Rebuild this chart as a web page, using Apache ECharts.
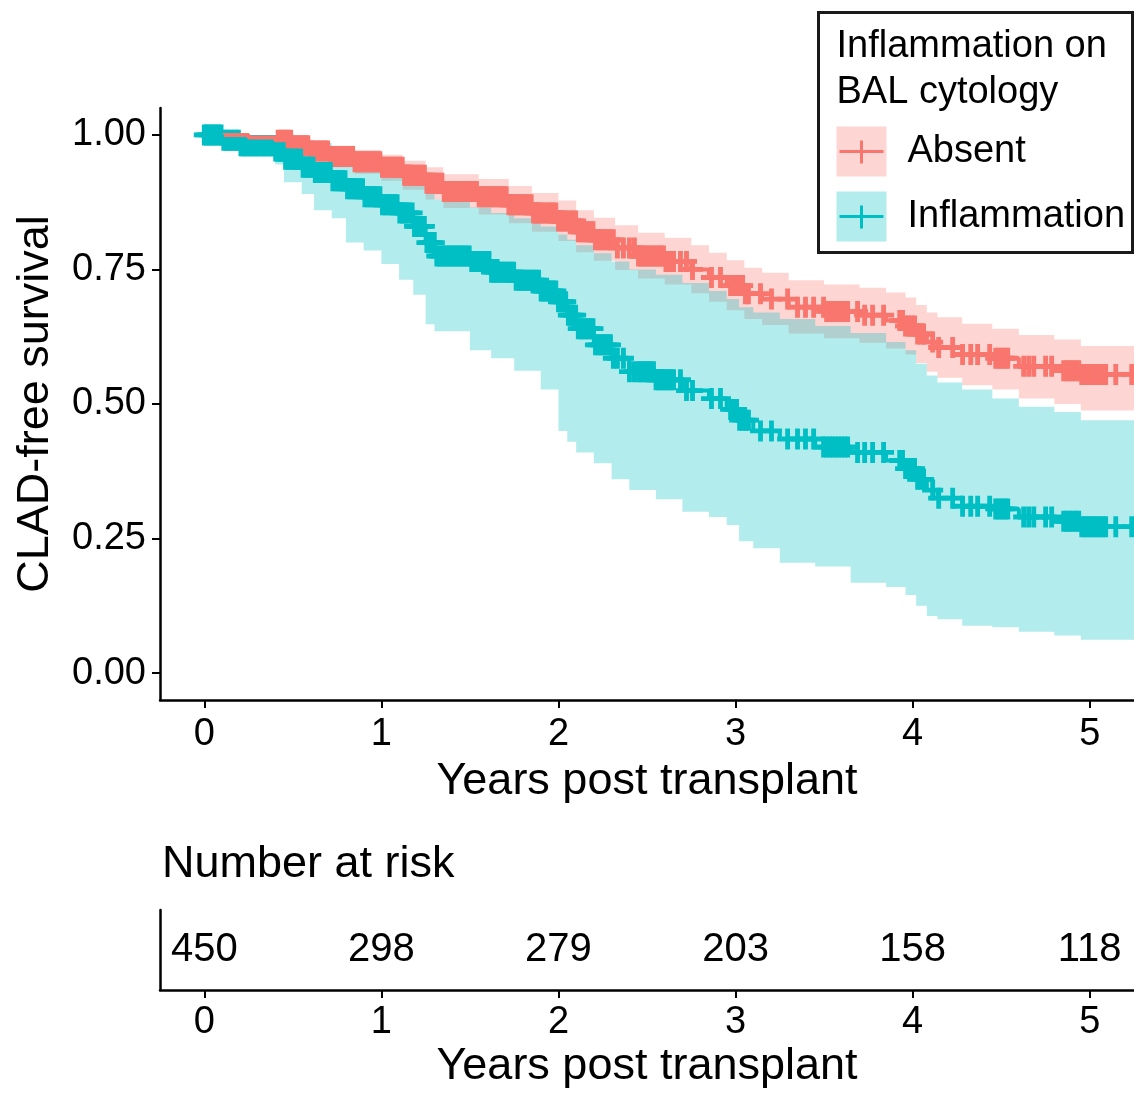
<!DOCTYPE html>
<html>
<head>
<meta charset="utf-8">
<script src="https://cdn.jsdelivr.net/npm/echarts@6/dist/echarts.min.js"></script>
<style>
html, body { margin: 0; padding: 0; background: #fff; }
#chart { width: 1134px; height: 1094px; }
</style>
</head>
<body>
<div id="chart"></div>
<script>
// Kaplan-Meier steps
const absentTime  = [0, 0.25, 0.4, 0.5, 0.6, 0.7, 0.85, 1.0, 1.12, 1.25, 1.35, 1.55, 1.72, 1.85, 2.0, 2.1, 2.2, 2.32, 2.45, 2.6, 2.75, 2.85, 2.95, 3.05, 3.15, 3.3, 3.5, 3.7, 3.85, 3.96, 4.02, 4.08, 4.14, 4.28, 4.45, 4.6, 4.8, 4.95, 5.3]
const absentSurv  = [1, 0.995, 0.99, 0.98, 0.97, 0.96, 0.95, 0.94, 0.925, 0.91, 0.895, 0.885, 0.87, 0.855, 0.84, 0.82, 0.805, 0.79, 0.775, 0.765, 0.75, 0.735, 0.72, 0.705, 0.695, 0.68, 0.672, 0.665, 0.655, 0.645, 0.63, 0.615, 0.605, 0.592, 0.585, 0.57, 0.562, 0.555, 0.555]
const absentLower = [1, 0.985, 0.978, 0.965, 0.953, 0.94, 0.928, 0.915, 0.898, 0.88, 0.864, 0.852, 0.836, 0.82, 0.803, 0.782, 0.766, 0.749, 0.733, 0.722, 0.706, 0.69, 0.674, 0.658, 0.647, 0.631, 0.622, 0.614, 0.603, 0.592, 0.576, 0.56, 0.549, 0.535, 0.527, 0.51, 0.5, 0.488, 0.488]
const absentUpper = [1, 1, 1, 0.995, 0.988, 0.98, 0.972, 0.963, 0.952, 0.94, 0.927, 0.918, 0.905, 0.892, 0.878, 0.86, 0.846, 0.832, 0.818, 0.809, 0.795, 0.781, 0.767, 0.753, 0.744, 0.73, 0.722, 0.716, 0.707, 0.698, 0.684, 0.67, 0.661, 0.649, 0.64, 0.628, 0.62, 0.608, 0.608]

const inflamTime  = [0, 0.1, 0.2, 0.4, 0.45, 0.55, 0.62, 0.72, 0.8, 0.9, 1.0, 1.1, 1.18, 1.25, 1.3, 1.5, 1.62, 1.75, 1.9, 2.0, 2.05, 2.1, 2.2, 2.3, 2.4, 2.55, 2.7, 2.85, 2.95, 3.02, 3.1, 3.25, 3.45, 3.65, 3.85, 3.96, 4.02, 4.08, 4.14, 4.28, 4.45, 4.6, 4.8, 4.95, 5.3]
const inflamSurv  = [1, 0.99, 0.98, 0.97, 0.955, 0.94, 0.93, 0.915, 0.9, 0.885, 0.87, 0.855, 0.83, 0.8, 0.775, 0.765, 0.745, 0.73, 0.71, 0.69, 0.665, 0.64, 0.61, 0.585, 0.56, 0.545, 0.525, 0.51, 0.49, 0.47, 0.45, 0.435, 0.42, 0.41, 0.395, 0.38, 0.36, 0.34, 0.325, 0.31, 0.305, 0.29, 0.282, 0.272, 0.272]
const inflamLower = [1, 0.975, 0.96, 0.945, 0.912, 0.89, 0.86, 0.845, 0.8, 0.785, 0.76, 0.731, 0.703, 0.648, 0.635, 0.6, 0.585, 0.562, 0.527, 0.45, 0.43, 0.41, 0.39, 0.36, 0.34, 0.323, 0.3, 0.29, 0.275, 0.245, 0.232, 0.205, 0.198, 0.168, 0.16, 0.145, 0.125, 0.106, 0.1, 0.088, 0.085, 0.077, 0.07, 0.062, 0.062]
const inflamUpper = [1, 1, 1, 1, 0.995, 0.99, 0.985, 0.975, 0.965, 0.955, 0.945, 0.935, 0.92, 0.9, 0.88, 0.865, 0.855, 0.845, 0.83, 0.815, 0.805, 0.795, 0.78, 0.765, 0.75, 0.74, 0.725, 0.71, 0.695, 0.68, 0.67, 0.658, 0.645, 0.632, 0.615, 0.6, 0.575, 0.553, 0.54, 0.527, 0.51, 0.495, 0.485, 0.47, 0.47]

// censoring times (+ marks); the first stretch only shows on the inflammation curve
const censorStart = [0, 0.012, 0.026, 0.04, 0.053, 0.068, 0.081, 0.095, 0.11, 0.124, 0.137, 0.151, 0.166, 0.18, 0.193, 0.207, 0.222, 0.236, 0.249, 0.263, 0.278, 0.291, 0.305, 0.32, 0.334, 0.347, 0.361, 0.376, 0.39, 0.403]
const censorMid = [0.417, 0.432, 0.446, 0.459, 0.473, 0.488, 0.502, 0.515, 0.529, 0.544, 0.558, 0.571, 0.585, 0.6, 0.614, 0.627, 0.641, 0.656, 0.67, 0.683, 0.697, 0.712, 0.726, 0.739, 0.753, 0.768, 0.782, 0.795, 0.809, 0.824, 0.838, 0.851, 0.865, 0.88, 0.894, 0.907, 0.921, 0.936, 0.95, 0.963, 0.977, 0.992, 1.006, 1.019, 1.033, 1.048, 1.062, 1.075, 1.089, 1.104, 1.118, 1.131, 1.145, 1.16, 1.174, 1.187, 1.201, 1.216, 1.23, 1.243, 1.257, 1.272, 1.286, 1.299, 1.313, 1.328, 1.342, 1.355, 1.369, 1.384, 1.398, 1.411, 1.425, 1.44, 1.454, 1.467, 1.481, 1.496, 1.51, 1.523, 1.537, 1.552, 1.566, 1.579, 1.593, 1.608, 1.622, 1.635, 1.649, 1.664, 1.678, 1.691, 1.705, 1.72, 1.734, 1.747, 1.761, 1.776, 1.79, 1.803, 1.817, 1.832, 1.846, 1.859, 1.873, 1.888, 1.902, 1.915, 1.929, 1.944, 1.958, 1.971, 1.985, 2.0, 2.014, 2.027, 2.041, 2.056, 2.07, 2.083, 2.097, 2.112, 2.126, 2.139, 2.153, 2.168, 2.182, 2.195, 2.209, 2.224, 2.238, 2.251, 2.265, 2.28, 2.294, 2.31]
const censorLate = [2.333, 2.367, 2.401, 2.429, 2.452, 2.465, 2.48, 2.494, 2.508, 2.522, 2.537, 2.551, 2.565, 2.579, 2.593, 2.607, 2.621, 2.636, 2.65, 2.689, 2.723, 2.757, 2.864, 2.915, 2.972, 2.989, 3.006, 3.023, 3.04, 3.056, 3.073, 3.141, 3.203, 3.294, 3.35, 3.395, 3.441, 3.497, 3.514, 3.531, 3.548, 3.565, 3.582, 3.599, 3.616, 3.633, 3.689, 3.729, 3.774, 3.836, 3.927, 3.943, 3.96, 3.977, 3.994, 4.011, 4.028, 4.045, 4.062, 4.113, 4.147, 4.226, 4.282, 4.328, 4.367, 4.435, 4.469, 4.486, 4.503, 4.52, 4.537, 4.627, 4.655, 4.684, 4.751, 4.785, 4.853, 4.87, 4.887, 4.904, 4.921, 4.938, 4.955, 4.972, 4.989, 5.006, 5.023, 5.04, 5.056, 5.073, 5.09, 5.147, 5.237]

// number at risk table
const riskTimes = [0, 1, 2, 3, 4, 5]
const riskCounts = [450, 298, 279, 203, 158, 118]

const xTicks = [0, 1, 2, 3, 4, 5]
const yTicks = [0, 0.25, 0.5, 0.75, 1]

const RED = '#F8766D'
const TEAL = '#00BFC4'
const FONT = 'Liberation Sans, Arial, Helvetica, sans-serif'
const CROSS = 'path://M7.7,0H12.3V7.7H20V12.3H12.3V20H7.7V12.3H0V7.7H7.7Z'

// step value at time t
function survAt(times, surv, t) {
  let v = surv[0]
  for (let i = 0; i < times.length; i++) {
    if (times[i] <= t) v = surv[i]
  }
  return v
}

// confidence ribbon as one stepped polygon
function bandSeries(times, lower, upper, color) {
  return {
    type: 'custom', silent: true,
    data: times.map((t, i) => [t, lower[i], upper[i]]),
    renderItem(params, api) {
      if (params.dataIndex !== 0) return null
      const n = params.dataInsideLength
      const top = []
      const bottom = []
      for (let i = 0; i < n; i++) {
        const t0 = api.value(0, i)
        const t1 = i < n - 1 ? api.value(0, i + 1) : t0
        top.push(api.coord([t0, api.value(2, i)]), api.coord([t1, api.value(2, i)]))
        bottom.push(api.coord([t0, api.value(1, i)]), api.coord([t1, api.value(1, i)]))
      }
      return {
        type: 'polygon',
        shape: { points: top.concat(bottom.reverse()) },
        style: { fill: color, opacity: 0.3 },
      }
    },
  }
}

function censorSeries(list, times, surv, color) {
  return {
    type: 'scatter', symbol: CROSS, symbolSize: 21, silent: true,
    itemStyle: { color, opacity: 1 },
    data: list.map(t => [t, survAt(times, surv, t)]),
  }
}

const axisText = { color: '#000', fontSize: 38, fontFamily: FONT }
const axisLineStyle = { onZero: false, lineStyle: { color: '#000', width: 2.5 } }
const tickStyle = { show: true, length: 8, lineStyle: { color: '#000', width: 2 } }
const nameStyle = { color: '#000', fontSize: 45, fontFamily: FONT }

const chart = echarts.init(document.getElementById('chart'), null, { renderer: 'canvas' })

chart.setOption({
  animation: false,
  backgroundColor: '#fff',
  grid: [
    { left: 160, right: 0, top: 108, height: 592 },
    { left: 160, right: 0, top: 910, height: 80 },
  ],
  xAxis: [
    {
      gridIndex: 0, type: 'value', min: -0.25, max: 5.25,
      axisLine: axisLineStyle,
      axisTick: { ...tickStyle, customValues: xTicks },
      axisLabel: { ...axisText, margin: 16, customValues: xTicks },
      splitLine: { show: false },
      name: 'Years post transplant', nameLocation: 'middle', nameGap: 54,
      nameTextStyle: nameStyle,
    },
    {
      gridIndex: 1, type: 'value', min: -0.25, max: 5.25,
      axisLine: axisLineStyle,
      axisTick: { ...tickStyle, customValues: xTicks },
      axisLabel: { ...axisText, margin: 14, customValues: xTicks },
      splitLine: { show: false },
      name: 'Years post transplant', nameLocation: 'middle', nameGap: 54,
      nameTextStyle: nameStyle,
    },
  ],
  yAxis: [
    {
      gridIndex: 0, type: 'value', min: -0.05, max: 1.05,
      axisLine: { show: true, ...axisLineStyle },
      axisTick: { ...tickStyle, customValues: yTicks },
      axisLabel: { ...axisText, margin: 14, customValues: yTicks, formatter: v => v.toFixed(2) },
      splitLine: { show: false },
      name: 'CLAD-free survival', nameLocation: 'middle', nameGap: 102, nameRotate: 90,
      nameTextStyle: nameStyle,
    },
    {
      gridIndex: 1, type: 'value', min: 0, max: 1,
      axisLine: { show: true, ...axisLineStyle },
      axisTick: { show: false },
      axisLabel: { show: false },
      splitLine: { show: false },
    },
  ],
  series: [
    bandSeries(absentTime, absentLower, absentUpper, RED),
    bandSeries(inflamTime, inflamLower, inflamUpper, TEAL),
    {
      type: 'line', step: 'end', symbol: 'none', silent: true,
      lineStyle: { color: RED, width: 4 },
      data: absentTime.map((t, i) => [t, absentSurv[i]]),
    },
    {
      type: 'line', step: 'end', symbol: 'none', silent: true,
      lineStyle: { color: TEAL, width: 4 },
      data: inflamTime.map((t, i) => [t, inflamSurv[i]]),
    },
    censorSeries(censorMid.concat(censorLate), absentTime, absentSurv, RED),
    censorSeries(censorStart.concat(censorMid, censorLate), inflamTime, inflamSurv, TEAL),
    {
      type: 'scatter', xAxisIndex: 1, yAxisIndex: 1, symbolSize: 0, silent: true,
      itemStyle: { opacity: 1 },
      label: {
        show: true, position: 'inside', color: '#000', opacity: 1, fontSize: 40, fontFamily: FONT,
        formatter: p => String(p.value[2]),
      },
      data: riskTimes.map((t, i) => [t, 0.5, riskCounts[i]]),
    },
  ],
  graphic: [
    {
      type: 'text', left: 162, top: 842, z: 100,
      style: { text: 'Number at risk', fill: '#000', font: '45px ' + FONT },
    },
    {
      type: 'group', left: 817, top: 11, z: 100,
      children: [
        { type: 'rect', shape: { x: 0, y: 0, width: 314, height: 240 }, style: { fill: '#fff', stroke: '#1a1a1a', lineWidth: 3 } },
        { type: 'text', x: 18, y: 34, style: { text: 'Inflammation on', fill: '#000', font: '38px ' + FONT, verticalAlign: 'middle' } },
        { type: 'text', x: 18, y: 80, style: { text: 'BAL cytology', fill: '#000', font: '38px ' + FONT, verticalAlign: 'middle' } },
        { type: 'rect', shape: { x: 18, y: 114, width: 50, height: 50 }, style: { fill: RED, opacity: 0.3 } },
        { type: 'line', shape: { x1: 21, y1: 139, x2: 65, y2: 139 }, style: { stroke: RED, lineWidth: 3 } },
        { type: 'line', shape: { x1: 43, y1: 128, x2: 43, y2: 151 }, style: { stroke: RED, lineWidth: 3 } },
        { type: 'text', x: 89, y: 139, style: { text: 'Absent', fill: '#000', font: '38px ' + FONT, verticalAlign: 'middle' } },
        { type: 'rect', shape: { x: 18, y: 179, width: 50, height: 50 }, style: { fill: TEAL, opacity: 0.3 } },
        { type: 'line', shape: { x1: 21, y1: 204, x2: 65, y2: 204 }, style: { stroke: TEAL, lineWidth: 3 } },
        { type: 'line', shape: { x1: 43, y1: 193, x2: 43, y2: 216 }, style: { stroke: TEAL, lineWidth: 3 } },
        { type: 'text', x: 89, y: 204, style: { text: 'Inflammation', fill: '#000', font: '38px ' + FONT, verticalAlign: 'middle' } },
      ],
    },
  ],
})
</script>
</body>
</html>
